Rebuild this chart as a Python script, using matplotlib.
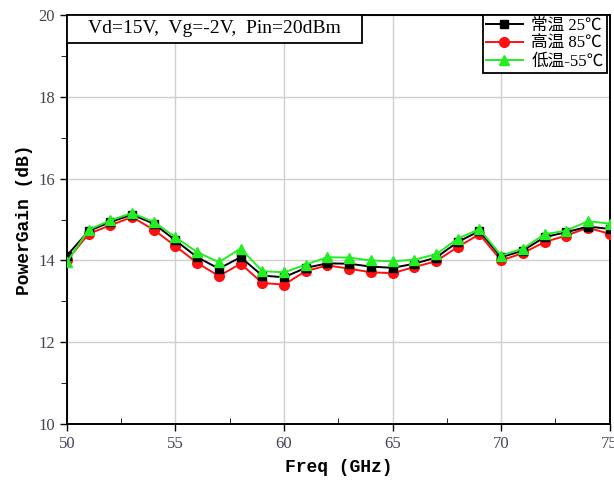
import matplotlib.pyplot as plt
from matplotlib.patches import Rectangle
from matplotlib.ticker import MultipleLocator

freq = [50, 51, 52, 53, 54, 55, 56, 57, 58, 59, 60, 61, 62,
        63, 64, 65, 66, 67, 68, 69, 70, 71, 72, 73, 74, 75]
gain_25 = [14.12, 14.72, 14.94, 15.12, 14.90, 14.49, 14.08, 13.80, 14.08, 13.63, 13.59, 13.82, 13.93,
           13.92, 13.85, 13.82, 13.92, 14.07, 14.45, 14.72, 14.08, 14.24, 14.57, 14.69, 14.83, 14.77]
gain_85 = [14.00, 14.65, 14.86, 15.06, 14.75, 14.35, 13.94, 13.62, 13.92, 13.45, 13.41, 13.74, 13.88,
           13.80, 13.71, 13.69, 13.84, 13.98, 14.33, 14.64, 14.00, 14.18, 14.45, 14.61, 14.80, 14.65]
gain_m55 = [13.96, 14.75, 14.98, 15.16, 14.94, 14.57, 14.20, 13.96, 14.29, 13.74, 13.71, 13.90, 14.08,
            14.07, 14.00, 13.98, 14.02, 14.15, 14.53, 14.77, 14.12, 14.29, 14.64, 14.73, 14.96, 14.90]
labels = ["常温 25℃", "高温 85℃", "低温-55℃"]
note = "Vd=15V,  Vg=-2V,  Pin=20dBm"

legend_fonts = ["Liberation Serif", "Noto Sans CJK SC", "DejaVu Sans"]

fig = plt.figure(figsize=(6.14, 4.82), dpi=100)
ax = fig.add_axes([0.109, 0.120, 0.884, 0.849])

ax.plot(freq, gain_25, color="black", marker="s", markersize=6, linewidth=1.4, label=labels[0], zorder=4)
ax.plot(freq, gain_85, color="#ff1010", marker="o", markersize=7, linewidth=1.4, label=labels[1], zorder=3)
ax.plot(freq, gain_m55, color="#22ee22", marker="^", markersize=7, linewidth=1.4, label=labels[2], zorder=5)

ax.set_xlim(50, 75)
ax.set_ylim(10, 20)
ax.xaxis.set_major_locator(MultipleLocator(5))
ax.xaxis.set_minor_locator(MultipleLocator(2.5))
ax.yaxis.set_major_locator(MultipleLocator(2))
ax.yaxis.set_minor_locator(MultipleLocator(1))
ax.grid(True, which="major", color="#d0d0d0", linewidth=1.0)
ax.tick_params(axis="both", which="major", direction="out", length=5, width=1,
               labelsize=12, colors="black")
ax.tick_params(axis="x", which="minor", direction="in", length=4)
ax.tick_params(axis="y", which="minor", direction="out", length=4)
for lab in ax.get_xticklabels() + ax.get_yticklabels():
    lab.set_fontfamily("Liberation Serif")
    lab.set_color("#444455")
for s in ax.spines.values():
    s.set_linewidth(1.4)

ax.set_xlabel("Freq (GHz)", fontsize=13, fontweight="bold", family="Liberation Mono", labelpad=5)
ax.set_ylabel("PowerGain (dB)", fontsize=13, fontweight="bold", family="Liberation Mono", labelpad=4)

# condition box pinned to the top-left corner
box = Rectangle((0, 0.9315), 0.543, 0.0685, transform=ax.transAxes, facecolor="white",
                edgecolor="black", linewidth=1.3, zorder=10)
ax.add_patch(box)
ax.text(0.2715, 0.966, note, transform=ax.transAxes, fontsize=14, family="Liberation Serif",
        va="center", ha="center", zorder=11)

leg = ax.legend(loc="upper right", bbox_to_anchor=(0.9945, 1.0), prop={"family": legend_fonts, "size": 12},
                frameon=True, fancybox=False, edgecolor="black", framealpha=1, borderaxespad=0,
                handlelength=2.2, labelspacing=0.1, borderpad=0.2, handletextpad=0.5)
leg.get_frame().set_linewidth(1.3)

fig.savefig("out.png", dpi=100)
